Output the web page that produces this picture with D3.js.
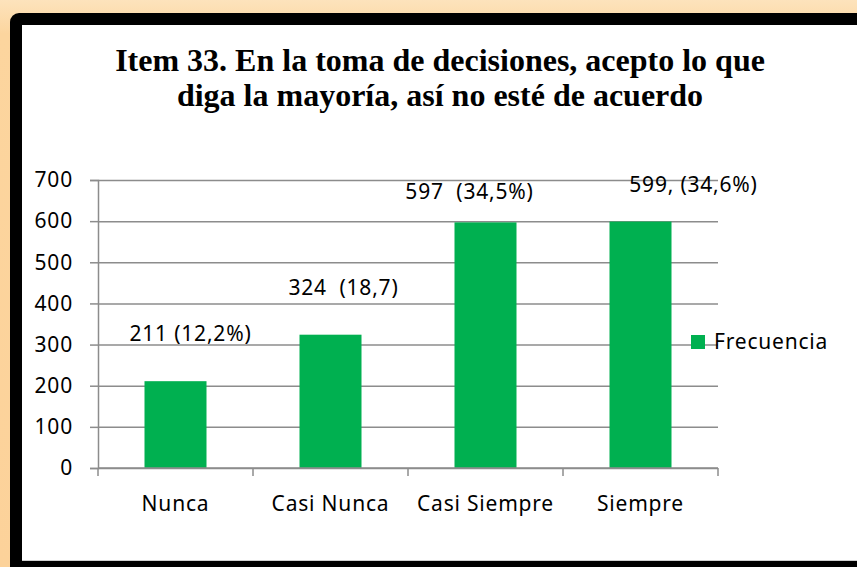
<!DOCTYPE html>
<html>
<head>
<meta charset="utf-8">
<script src="https://cdn.jsdelivr.net/npm/d3@7"></script>
<style>
  body { margin: 0; background: #fcd59e; }
  svg { display: block; }
  text { white-space: pre; }
</style>
</head>
<body>
<div class="chart"></div>
<script>
const categories = ["Nunca", "Casi Nunca", "Casi Siempre", "Siempre"];
const values = [211, 324, 597, 599];
const labels = ["211 (12,2%)", "324  (18,7)", "597  (34,5%)", "599, (34,6%)"];
const yTicks = [0, 100, 200, 300, 400, 500, 600, 700];
const seriesName = "Frecuencia";
const titleLines = ["Item 33. En la toma de decisiones, acepto lo que", "diga la mayoría, así no esté de acuerdo"];

// hand placed data labels in the original, offsets from bar top centre
const labelOffsets = [[15, -40], [13, -40], [-16, -23], [53, -30]];

const W = 857, H = 567;
const left_padding = 98;
const plot_right = 718;
const plot_top = 180;
const plot_bottom = 468;
const font = "'Noto Sans', 'Open Sans', sans-serif";
const font_size = "21px";
const spacing = "0.8px";

const svg = d3.select(".chart").append("svg")
  .attr("width", W)
  .attr("height", H);

// orange backdrop + black frame
const grad = svg.append("defs").append("linearGradient")
  .attr("id", "bg").attr("x1", 0).attr("y1", 0).attr("x2", 0).attr("y2", 1);
grad.append("stop").attr("offset", "0%").attr("stop-color", "#fde3bc");
grad.append("stop").attr("offset", "6%").attr("stop-color", "#fcd59e");
grad.append("stop").attr("offset", "100%").attr("stop-color", "#fcd29a");
svg.append("rect").attr("width", W).attr("height", H).attr("fill", "url(#bg)");
svg.append("rect")
  .attr("x", 10).attr("y", 13)
  .attr("width", W + 20).attr("height", H + 20)
  .attr("rx", 9)
  .attr("fill", "#000");
svg.append("rect")
  .attr("x", 22).attr("y", 25)
  .attr("width", W - 22).attr("height", 536)
  .attr("fill", "#fff");
svg.append("line")
  .attr("x1", 22).attr("x2", W).attr("y1", 560.5).attr("y2", 560.5)
  .attr("stroke", "#d0d0d0");

// title
svg.append("text")
  .attr("text-anchor", "middle")
  .style("font-family", "'Liberation Serif', 'Times New Roman', serif")
  .style("font-weight", "bold")
  .style("font-size", "32px")
  .selectAll("tspan")
  .data(titleLines)
  .join("tspan")
    .attr("x", 440)
    .attr("y", (d, i) => 71 + i * 35)
    .text(d => d);

const x = d3.scaleBand()
  .domain(categories)
  .range([left_padding, plot_right])
  .paddingInner(0.6)
  .paddingOuter(0.3);

const y = d3.scaleLinear()
  .domain([0, 700])
  .range([plot_bottom, plot_top]);

// gridlines + y axis
const yAxis = svg.append("g")
  .attr("transform", `translate(${left_padding},0)`)
  .call(d3.axisLeft(y).tickValues(yTicks).tickSize(8).tickPadding(17)
    .tickFormat(d3.format("d")));
yAxis.select(".domain").attr("stroke", "#8c8c8c").attr("stroke-width", 1.5);
yAxis.selectAll(".tick line").attr("stroke", "#8c8c8c").attr("stroke-width", 1.5);
yAxis.selectAll(".tick")
  .append("line")
  .attr("x1", 0).attr("x2", plot_right - left_padding)
  .attr("stroke", "#8c8c8c").attr("stroke-width", 1.5);
yAxis.selectAll("text")
  .style("font-family", font)
  .style("font-size", font_size)
  .style("letter-spacing", spacing)
  .attr("fill", "#000");

// bars
svg.append("g").selectAll("rect")
  .data(values)
  .join("rect")
    .attr("x", (d, i) => x(categories[i]))
    .attr("y", d => y(d))
    .attr("width", x.bandwidth())
    .attr("height", d => y(0) - y(d))
    .attr("fill", "#00b050");

// x axis, ticks between categories
const xAxis = svg.append("g")
  .attr("transform", `translate(0,${plot_bottom})`);
xAxis.append("line")
  .attr("x1", left_padding).attr("x2", plot_right)
  .attr("stroke", "#8c8c8c").attr("stroke-width", 1.5);
xAxis.selectAll("line.tk")
  .data(d3.range(categories.length + 1))
  .join("line")
    .attr("class", "tk")
    .attr("x1", i => left_padding + i * (plot_right - left_padding) / categories.length)
    .attr("x2", i => left_padding + i * (plot_right - left_padding) / categories.length)
    .attr("y1", 0).attr("y2", 8)
    .attr("stroke", "#8c8c8c").attr("stroke-width", 1.5);
xAxis.selectAll("text")
  .data(categories)
  .join("text")
    .attr("x", d => x(d) + x.bandwidth() / 2)
    .attr("y", 43)
    .attr("text-anchor", "middle")
    .style("font-family", font)
    .style("font-size", font_size)
    .style("letter-spacing", spacing)
    .text(d => d);

// data labels
svg.append("g").selectAll("text")
  .data(values)
  .join("text")
    .attr("x", (d, i) => x(categories[i]) + x.bandwidth() / 2 + labelOffsets[i][0])
    .attr("y", (d, i) => y(d) + labelOffsets[i][1])
    .attr("text-anchor", "middle")
    .style("font-family", font)
    .style("font-size", font_size)
    .style("letter-spacing", spacing)
    .text((d, i) => labels[i]);

// legend
const legend = svg.append("g").attr("transform", "translate(691,335)");
legend.append("rect").attr("width", 14).attr("height", 14).attr("fill", "#00b050");
legend.append("text")
  .attr("x", 23).attr("y", 14)
  .style("font-family", font)
  .style("font-size", font_size)
  .style("letter-spacing", spacing)
  .text(seriesName);
</script>
</body>
</html>
